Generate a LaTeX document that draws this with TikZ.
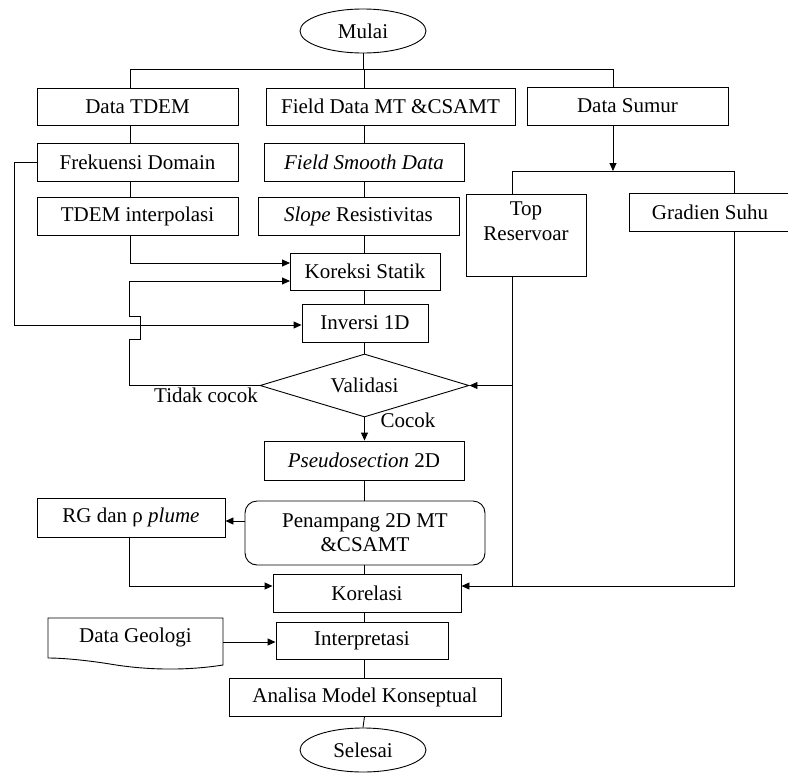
\documentclass[tikz,border=0pt]{standalone}
\usepackage{fontspec}
\setmainfont{Liberation Serif}
\usetikzlibrary{shapes.geometric,arrows.meta}
\newcommand\myfs{\fontsize{21}{24}\selectfont}
\begin{document}
\begin{tikzpicture}[x=1pt,y=-1pt,
 line width=0.9pt,
 box/.style={draw, rectangle, inner sep=1pt, font=\myfs, align=center},
 term/.style={draw, ellipse, inner sep=0pt, minimum width=126pt, minimum height=44pt, font=\myfs},
 arr/.style={-{Triangle[length=8pt,width=7pt]}},
 lbl/.style={font=\myfs, inner sep=0pt}]
\useasboundingbox (0,0) rectangle (788,772);
% nodes
\node[term] (mulai) at (363,31) {Mulai};
\node[box, minimum width=201pt, minimum height=37pt] (tdem) at (137.5,106.5) {Data TDEM};
\node[box, minimum width=249pt, minimum height=37pt] (field) at (390.5,106.5) {Field Data MT \&CSAMT};
\node[box, minimum width=201pt, minimum height=38pt] (sumur) at (627.5,106) {Data Sumur};
\node[box, minimum width=201pt, minimum height=38pt] (frek) at (137.5,162) {Frekuensi Domain};
\node[box, minimum width=200pt, minimum height=38pt] (smooth) at (364,162) {\textit{Field Smooth Data}};
\node[box, minimum width=201pt, minimum height=38pt] (interp) at (137.5,216) {TDEM interpolasi};
\node[box, minimum width=201pt, minimum height=38pt] (slope) at (358.5,216) {\textit{Slope} Resistivitas};
\node[box, minimum width=120pt, minimum height=82pt] (topres) at (526,235) {};
\node[lbl, anchor=north, align=center, font=\fontsize{21}{25}\selectfont] (topreslbl) at (526,201) {Top\\Reservoar};
\node[box, minimum width=162pt, minimum height=38pt] (gradien) at (710,212) {Gradien Suhu};
\node[box, minimum width=150pt, minimum height=37pt] (koreksi) at (365,271.5) {Koreksi Statik};
\node[box, minimum width=126pt, minimum height=38pt] (inversi) at (365,323) {Inversi 1D};
\node[draw, diamond, aspect=3.3, inner sep=0pt, minimum width=209pt, minimum height=63pt, font=\myfs] (valid) at (364.5,385.5) {Validasi};
\node[box, minimum width=200pt, minimum height=39pt] (pseudo) at (364,460.5) {\textit{Pseudosection} 2D};
\node[box, rounded corners=12pt, minimum width=240pt, minimum height=64pt] (penampang) at (365,533) {Penampang 2D MT\\\&CSAMT};
\node[box, minimum width=188pt, minimum height=39pt] (rg) at (131,517.5) {RG dan ρ \textit{plume}};
\node[box, minimum width=188pt, minimum height=38pt] (korelasi) at (367,593) {Korelasi};
\node[box, minimum width=172pt, minimum height=37pt] (interpret) at (362,640.5) {Interpretasi};
\node[inner sep=0pt, minimum width=175pt, minimum height=40pt, font=\myfs] (geo) at (135.5,637) {Data Geologi};
\draw (48,618) -- (223,618) -- (223,665) .. controls (185,671) and (145,670) .. (110,664) .. controls (85,660) and (62,658) .. (48,658) -- cycle;
\node[box, minimum width=272pt, minimum height=38pt] (analisa) at (365,697) {Analisa Model Konseptual};
\node[term] (selesai) at (363,750) {Selesai};
\node[lbl] (tidak) at (206,395) {Tidak cocok};
\node[lbl] (cocok) at (408,420) {Cocok};
% coordinates
\coordinate (cT) at (130,69);
\coordinate (cM) at (364.5,69);
\coordinate (cS) at (613,69);
\coordinate (kA) at (290,263);
\coordinate (kB) at (290,281);
\coordinate (wb) at (613,171);
\coordinate (wL) at (512,171);
\coordinate (wR) at (734,171);
\coordinate (kr) at (734,586);
\coordinate (kj) at (512,586);
\coordinate (fL) at (14,325);
\coordinate (tc) at (129,0);
\coordinate (j1) at (129,339);
\coordinate (j2) at (140,339);
\coordinate (j3) at (140,316);
\coordinate (j4) at (129,316);
\coordinate (pr) at (0,521);
\coordinate (gy) at (0,642);
% connectors
\draw (mulai.south) -- (mulai.south |- cT);
\draw (cT |- tdem.north) -- (cT) -- (cS) -- (cS |- sumur.north);
\draw (cM) -- (cM |- field.north);
\draw (cT |- tdem.south) -- (cT |- frek.north);
\draw (cT |- frek.south) -- (cT |- interp.north);
\draw[arr] (cT |- interp.south) |- (kA);
\draw (cM |- field.south) -- (cM |- smooth.north);
\draw (cM |- smooth.south) -- (cM |- slope.north);
\draw (cM |- slope.south) -- (cM |- koreksi.north);
\draw (cM |- koreksi.south) -- (cM |- inversi.north);
\draw (cM |- inversi.south) -- (valid.north);
\draw[arr] (valid.south) -- (cM |- pseudo.north);
\draw (cM |- pseudo.south) -- (cM |- penampang.north);
\draw (cM |- penampang.south) -- (cM |- korelasi.north);
\draw (cM |- korelasi.south) -- (cM |- interpret.north);
\draw (cM |- interpret.south) -- (cM |- analisa.north);
\draw (cM |- analisa.south) -- (selesai.north);
\draw[arr] (cS |- sumur.south) -- (wb);
\draw (wL |- topres.north) -- (wL) -- (wR) -- (wR |- gradien.north);
\draw (wL |- topres.south) -- (kj);
\draw[arr] (wR |- gradien.south) -- (kr) -- (korelasi.east |- kr);
\draw[arr] (wL |- valid.east) -- (valid.east);
\draw[arr] (frek.west) -| (fL) -- (inversi.west |- fL);
\draw[arr] (valid.west) -- (tc |- valid.west) -- (j1) -- (j2) -- (j3) -- (j4) -- (kB -| tc) -- (kB);
\draw[arr] (tc |- rg.south) -- (tc |- kr) -- (korelasi.west |- kr);
\draw[arr] (penampang.west |- pr) -- (rg.east |- pr);
\draw[arr] (geo.east |- gy) -- (interpret.west |- gy);
\end{tikzpicture}
\end{document}
